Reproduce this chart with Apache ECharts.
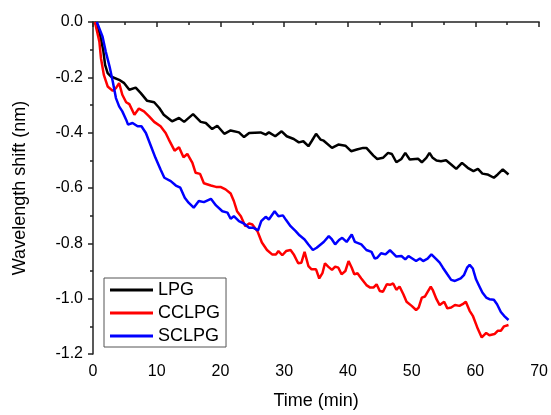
<!DOCTYPE html>
<html>
<head>
<meta charset="utf-8">
<script src="https://cdn.jsdelivr.net/npm/echarts@6/dist/echarts.min.js"></script>
<style>
  html, body { margin: 0; padding: 0; background: #fff; }
  #main { width: 551px; height: 415px; }
</style>
</head>
<body>
<div id="main"></div>
<script>
// [time (min), wavelength shift (nm)]
var lpgData = [[0.3,0],[1.05,-0.041],[1.6,-0.101],[1.9,-0.155],[2.3,-0.185],[2.8,-0.197],[4.1,-0.209],[4.9,-0.221],[5.7,-0.245],[6.7,-0.237],[7.5,-0.257],[8.5,-0.285],[9.6,-0.29],[10.4,-0.311],[11.1,-0.335],[12.4,-0.359],[13.5,-0.347],[14.3,-0.361],[15.7,-0.333],[16.9,-0.361],[17.7,-0.365],[18.7,-0.387],[19.5,-0.375],[20.6,-0.404],[21.6,-0.392],[22.9,-0.399],[23.7,-0.416],[24.5,-0.401],[26.3,-0.399],[27.1,-0.407],[27.6,-0.399],[28.6,-0.413],[29.6,-0.395],[30.4,-0.413],[31.5,-0.423],[32.3,-0.435],[33.0,-0.431],[33.8,-0.449],[34.3,-0.431],[35.0,-0.404],[35.7,-0.425],[36.2,-0.429],[37.5,-0.455],[38.5,-0.443],[39.6,-0.447],[40.5,-0.467],[41.4,-0.461],[42.4,-0.455],[42.9,-0.455],[44.0,-0.483],[44.6,-0.495],[45.5,-0.491],[46.3,-0.473],[46.9,-0.477],[47.6,-0.507],[48.4,-0.495],[49.0,-0.473],[49.7,-0.497],[51.0,-0.494],[51.6,-0.507],[52.3,-0.491],[52.8,-0.473],[53.3,-0.491],[53.9,-0.501],[54.6,-0.503],[55.4,-0.5],[56.2,-0.515],[57.0,-0.531],[57.9,-0.509],[58.8,-0.527],[59.7,-0.539],[60.4,-0.531],[61.1,-0.548],[61.9,-0.551],[62.9,-0.563],[63.5,-0.551],[64.3,-0.533],[65.2,-0.551]];

var cclpgData = [[0.3,0],[1.0,-0.071],[1.25,-0.131],[1.7,-0.191],[2.3,-0.233],[3.1,-0.249],[3.6,-0.239],[4.1,-0.221],[4.6,-0.263],[5.2,-0.29],[5.7,-0.297],[6.5,-0.335],[7.2,-0.313],[8.0,-0.323],[8.8,-0.341],[9.6,-0.361],[10.6,-0.377],[11.4,-0.401],[11.9,-0.425],[12.8,-0.465],[13.5,-0.453],[14.2,-0.489],[14.8,-0.477],[15.6,-0.509],[16.1,-0.545],[16.8,-0.549],[17.4,-0.583],[18.5,-0.591],[19.3,-0.596],[20.0,-0.596],[20.8,-0.605],[21.6,-0.62],[22.1,-0.647],[22.6,-0.684],[23.2,-0.702],[23.9,-0.738],[24.5,-0.728],[25.0,-0.732],[25.8,-0.756],[26.5,-0.797],[27.3,-0.824],[28.1,-0.84],[28.7,-0.84],[29.1,-0.828],[29.7,-0.843],[30.3,-0.828],[31.0,-0.824],[31.5,-0.84],[32.2,-0.872],[32.7,-0.87],[33.2,-0.831],[33.8,-0.882],[34.3,-0.894],[35.0,-0.894],[35.5,-0.927],[36.0,-0.908],[36.4,-0.872],[36.9,-0.884],[37.5,-0.896],[38.0,-0.884],[38.5,-0.888],[39.0,-0.912],[39.6,-0.9],[40.1,-0.864],[40.6,-0.888],[41.0,-0.912],[41.5,-0.908],[42.1,-0.927],[42.9,-0.951],[43.5,-0.96],[44.0,-0.96],[44.5,-0.948],[45.0,-0.972],[45.5,-0.975],[46.1,-0.948],[46.6,-0.95],[47.1,-0.945],[47.6,-0.968],[48.1,-0.956],[48.7,-0.984],[49.2,-1.011],[50.0,-1.026],[50.7,-1.041],[51.1,-1.032],[51.6,-0.996],[52.1,-0.992],[52.6,-0.972],[53.0,-0.957],[53.3,-0.968],[53.9,-1.002],[54.4,-1.023],[54.7,-1.02],[55.1,-1.011],[55.6,-1.035],[56.2,-1.032],[56.8,-1.023],[57.5,-1.026],[58.0,-1.02],[58.5,-1.011],[59.1,-1.044],[59.6,-1.062],[60.4,-1.11],[61.0,-1.14],[61.7,-1.124],[62.2,-1.132],[63.0,-1.128],[63.5,-1.116],[64.0,-1.116],[64.5,-1.1],[65.2,-1.095]];

var sclpgData = [[0.6,0],[1.5,-0.053],[2.0,-0.107],[2.6,-0.161],[3.1,-0.215],[3.6,-0.275],[4.1,-0.305],[4.6,-0.323],[5.2,-0.353],[5.5,-0.371],[6.2,-0.365],[7.0,-0.377],[7.6,-0.377],[8.3,-0.401],[9.1,-0.449],[9.8,-0.491],[10.6,-0.533],[11.2,-0.563],[12.2,-0.575],[13.0,-0.591],[13.7,-0.599],[14.4,-0.635],[15.0,-0.653],[15.8,-0.671],[16.6,-0.647],[17.4,-0.651],[18.5,-0.639],[19.3,-0.663],[20.3,-0.684],[21.1,-0.689],[21.6,-0.711],[22.1,-0.702],[22.9,-0.72],[23.7,-0.729],[24.5,-0.744],[25.2,-0.744],[25.9,-0.753],[26.4,-0.72],[27.1,-0.704],[27.6,-0.714],[28.5,-0.684],[29.1,-0.702],[29.8,-0.699],[30.3,-0.716],[31.0,-0.738],[31.8,-0.756],[32.4,-0.771],[33.2,-0.786],[33.8,-0.804],[34.5,-0.824],[35.1,-0.816],[36.2,-0.795],[37.0,-0.774],[37.5,-0.786],[38.0,-0.804],[38.6,-0.788],[39.1,-0.78],[39.8,-0.795],[40.6,-0.768],[41.1,-0.795],[42.1,-0.804],[42.9,-0.824],[43.7,-0.831],[44.2,-0.855],[44.6,-0.852],[45.2,-0.836],[45.9,-0.84],[46.6,-0.825],[47.1,-0.836],[47.6,-0.848],[48.4,-0.846],[49.0,-0.858],[49.5,-0.846],[50.1,-0.855],[50.7,-0.864],[51.3,-0.855],[51.8,-0.864],[52.5,-0.855],[53.1,-0.84],[53.9,-0.858],[54.4,-0.87],[54.9,-0.888],[55.6,-0.912],[56.2,-0.932],[56.8,-0.936],[57.1,-0.942],[57.7,-0.927],[58.2,-0.915],[58.7,-0.888],[59.1,-0.878],[59.6,-0.891],[60.1,-0.93],[60.6,-0.954],[61.1,-0.978],[61.7,-0.996],[62.2,-1.002],[62.9,-1.004],[63.4,-1.02],[64.0,-1.048],[64.5,-1.062],[65.2,-1.077]];

var seriesNames = ['LPG', 'CCLPG', 'SCLPG'];
var seriesColors = ['#000000', '#ff0000', '#0000ff'];

var font = 'Arial, "Liberation Sans", sans-serif';
var axisColor = '#222';

var myChart = echarts.init(document.getElementById('main'));

var allData = [lpgData, cclpgData, sclpgData];
var series = [];
for (var i = 0; i < allData.length; i++) {
    series.push({
        name: seriesNames[i],
        type: 'line',
        data: allData[i],
        symbol: 'none',
        lineStyle: { color: seriesColors[i], width: 2.5 },
        itemStyle: { color: seriesColors[i] }
    });
}

// legend entries drawn as plain line segments
var legendData = [];
for (var j = 0; j < seriesNames.length; j++) {
    legendData.push({ name: seriesNames[j], icon: 'rect', itemStyle: { color: seriesColors[j] } });
}

myChart.setOption({
    animation: false,
    grid: { left: 93, right: 9, top: 22, bottom: 60 },
    legend: {
        orient: 'vertical',
        left: 104,
        top: 278,
        padding: [3, 6, 2, 6],
        itemWidth: 43,
        itemHeight: 3,
        itemGap: 5,
        borderColor: '#555',
        borderWidth: 1,
        textStyle: { fontFamily: font, fontSize: 18, color: '#000' },
        data: legendData
    },
    xAxis: {
        type: 'value',
        min: 0, max: 70, interval: 10,
        name: 'Time (min)',
        nameLocation: 'middle',
        nameGap: 38,
        nameTextStyle: { fontFamily: font, fontSize: 18, color: '#000' },
        axisLine: { show: true, lineStyle: { color: axisColor, width: 1.5 } },
        axisTick: { show: true, inside: false, length: 5, lineStyle: { color: axisColor, width: 1.5 } },
        minorTick: { show: true, splitNumber: 2, length: 3, lineStyle: { color: axisColor, width: 1.5 } },
        axisLabel: { fontFamily: font, fontSize: 16, color: '#000', margin: 10 },
        splitLine: { show: false }
    },
    yAxis: {
        type: 'value',
        min: -1.2, max: 0, interval: 0.2,
        name: 'Wavelength shift (nm)',
        nameLocation: 'middle',
        nameGap: 64,
        nameTextStyle: { fontFamily: font, fontSize: 18, color: '#000' },
        axisLine: { show: true, lineStyle: { color: axisColor, width: 1.5 } },
        axisTick: { show: true, inside: false, length: 5, lineStyle: { color: axisColor, width: 1.5 } },
        minorTick: { show: true, splitNumber: 2, length: 3, lineStyle: { color: axisColor, width: 1.5 } },
        axisLabel: {
            fontFamily: font, fontSize: 16, color: '#000', margin: 10,
            formatter: function (v) { return v.toFixed(1); }
        },
        splitLine: { show: false }
    },
    series: series
});
</script>
</body>
</html>
